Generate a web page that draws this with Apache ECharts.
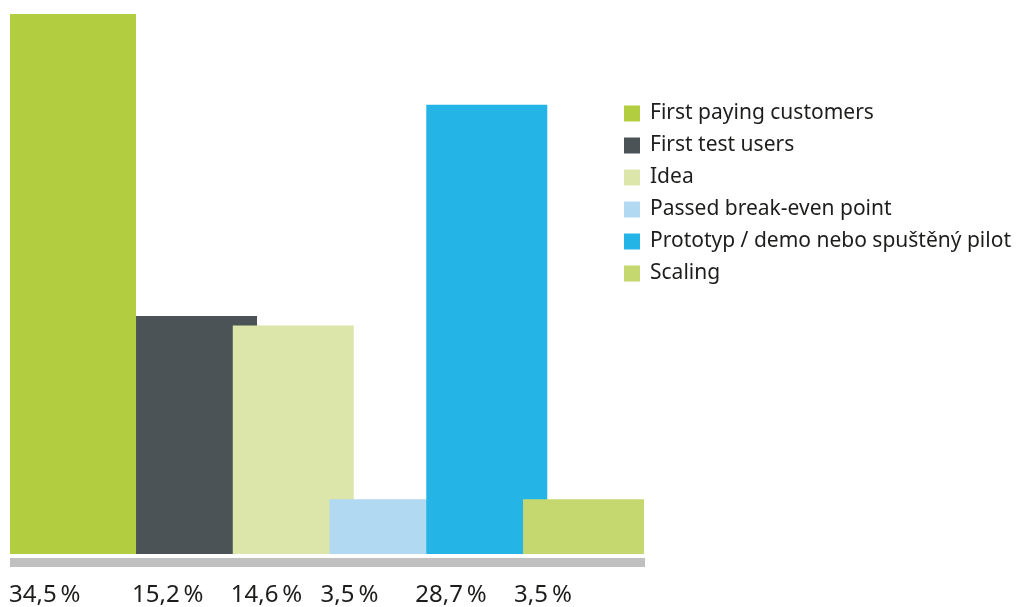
<!DOCTYPE html>
<html>
<head>
<meta charset="utf-8">
<script src="https://cdn.jsdelivr.net/npm/echarts@6/dist/echarts.min.js"></script>
<style>html,body{margin:0;padding:0;background:#fff}#c{width:1033px;height:607px}</style>
</head>
<body>
<div id="c"></div>
<script>
const categories = ['First paying customers', 'First test users', 'Idea', 'Passed break-even point', 'Prototyp / demo nebo spuštěný pilot', 'Scaling'];
const values = [34.5, 15.2, 14.6, 3.5, 28.7, 3.5];
const colors = ['#b3cd40', '#4b5357', '#dde6aa', '#b1d9f2', '#24b4e6', '#c5d76f'];
const labelDx = [-1, -4, -2, -9, -11, -9];

const FONT = 'Noto Sans';
const chart = echarts.init(document.getElementById('c'), null, {renderer: 'canvas'});

function fmt(v) { return String(v).replace('.', ',') + '\u2009%'; }

const series = categories.map((name, i) => {
  const first = i === 0;
  return {
    type: 'bar',
    name: name,
    xAxisIndex: first ? 0 : 1,
    yAxisIndex: first ? 0 : 1,
    data: first ? [values[0]] : values.map((v, j) => j === i ? v : '-'),
    barWidth: first ? 126 : 121,
    barGap: '-100%',
    clip: false,
    itemStyle: {color: colors[i]},
    emphasis: {disabled: true},
    label: {
      show: true,
      position: [0, '100%'],
      offset: [labelDx[i], 41],
      align: 'left',
      verticalAlign: 'middle',
      fontFamily: FONT,
      fontSize: 24,
      color: '#1d1d1b',
      formatter: p => fmt(p.value)
    }
  };
});

chart.setOption({
  animation: false,
  grid: [
    {left: 10, top: 14, width: 126, height: 540},
    {left: 51.4, top: 14, width: 580.5, height: 540}
  ],
  xAxis: [
    {type: 'category', gridIndex: 0, data: [categories[0]], show: false},
    {type: 'category', gridIndex: 1, data: categories, show: false}
  ],
  yAxis: [
    {type: 'value', gridIndex: 0, min: 0, max: 34.5, show: false},
    {type: 'value', gridIndex: 1, min: 0, max: 34.5, show: false}
  ],
  legend: {
    orient: 'vertical',
    left: 624,
    top: 103,
    padding: 0,
    itemWidth: 16,
    itemHeight: 16,
    itemGap: 11,
    icon: 'rect',
    data: categories,
    selectedMode: false,
    textStyle: {fontFamily: FONT, fontSize: 21, lineHeight: 20, color: '#1d1d1b', padding: [0, 0, 0, 5]}
  },
  graphic: [
    {type: 'rect', shape: {x: 10, y: 558, width: 635, height: 9}, style: {fill: '#c0c0c0'}, silent: true}
  ],
  series: series
});
</script>
</body>
</html>
